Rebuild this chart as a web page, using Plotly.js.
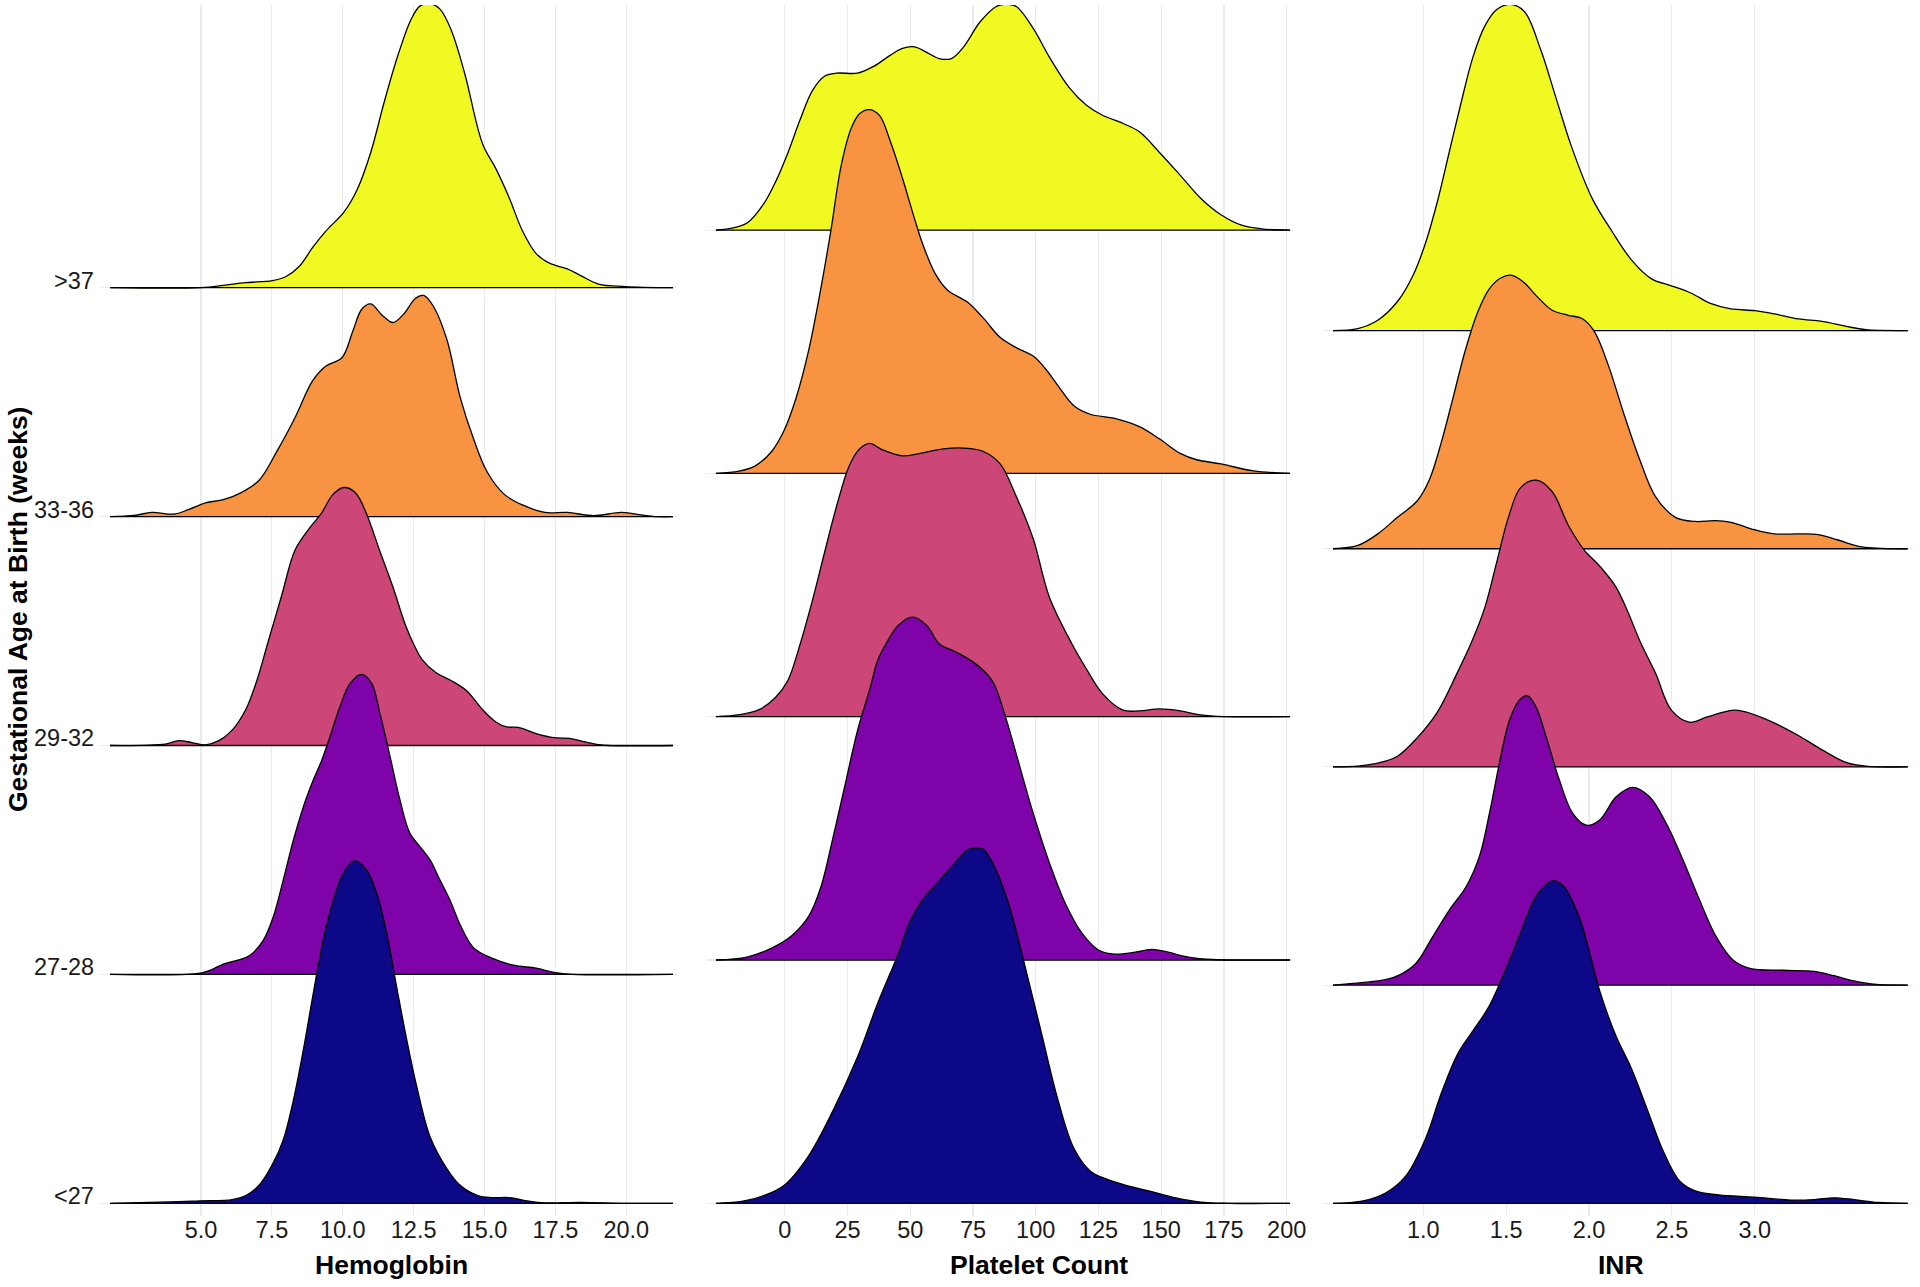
<!DOCTYPE html>
<html>
<head>
<meta charset="utf-8">
<script src="https://cdn.plot.ly/plotly-3.0.1.min.js"></script>
<style>html,body{margin:0;padding:0;background:#fff;}#chart{width:1920px;height:1287px;}</style>
</head>
<body>
<div id="chart"></div>
<script>
// ---------- categories / labels ----------
const ageGroups = ['<27', '27-28', '29-32', '33-36', '>37'];
const groupColors = ['#0D0887', '#7E03A8', '#CC4678', '#F89441', '#F0F921'];
const panelTitles = ['Hemoglobin', 'Platelet Count', 'INR'];
const yAxisTitle = 'Gestational Age at Birth (weeks)';

const hbTickVals = [5, 7.5, 10, 12.5, 15, 17.5, 20];
const hbTickText = ['5.0', '7.5', '10.0', '12.5', '15.0', '17.5', '20.0'];
const plTickVals = [0, 25, 50, 75, 100, 125, 150, 175, 200];
const plTickText = ['0', '25', '50', '75', '100', '125', '150', '175', '200'];
const inTickVals = [1, 1.5, 2, 2.5, 3];
const inTickText = ['1.0', '1.5', '2.0', '2.5', '3.0'];

// ---------- ridge heights (in row-spacing units) ----------
// Hemoglobin
const hbLt27X = [1.79, 4.21, 5.0, 6.1, 6.58, 7.05, 7.52, 7.9, 8.26, 8.61, 8.96, 9.31, 9.67, 10.02, 10.41, 10.84, 11.2, 11.55, 11.9, 12.26, 12.61, 13.08, 13.67, 14.14, 14.77, 15.24, 15.87, 16.5, 17.13, 18.39, 20.0, 21.65];
const hbLt27H = [0, 0.007, 0.011, 0.016, 0.034, 0.079, 0.17, 0.277, 0.451, 0.67, 0.917, 1.15, 1.325, 1.442, 1.497, 1.456, 1.354, 1.18, 0.946, 0.713, 0.51, 0.291, 0.152, 0.079, 0.034, 0.025, 0.025, 0.011, 0.002, 0.004, 0, 0];
const hb2728X = [1.79, 4.84, 5.32, 5.79, 6.3, 6.73, 7.2, 7.55, 7.9, 8.26, 8.61, 8.96, 9.26, 9.55, 9.9, 10.26, 10.67, 11.02, 11.31, 11.67, 12.02, 12.37, 12.73, 13.08, 13.43, 13.78, 14.14, 14.61, 15.24, 16.03, 16.82, 17.45, 18.08, 21.65];
const hb2728H = [0, 0.003, 0.018, 0.045, 0.062, 0.084, 0.15, 0.252, 0.412, 0.587, 0.732, 0.849, 0.936, 1.038, 1.169, 1.271, 1.311, 1.271, 1.14, 0.951, 0.761, 0.616, 0.557, 0.5, 0.412, 0.325, 0.217, 0.117, 0.072, 0.04, 0.027, 0.009, 0, 0];
const hb2932X = [1.79, 3.74, 4.21, 4.68, 5.16, 5.63, 6.1, 6.58, 6.97, 7.36, 7.84, 8.31, 8.78, 9.25, 9.65, 10.04, 10.44, 10.83, 11.3, 11.78, 12.2, 12.55, 12.8, 13.27, 13.82, 14.37, 14.93, 15.4, 15.79, 16.19, 16.82, 17.45, 18.0, 18.55, 19.18, 21.65];
const hb2932H = [0, 0.006, 0.021, 0.013, 0.003, 0.021, 0.067, 0.157, 0.284, 0.45, 0.653, 0.852, 0.942, 1.015, 1.096, 1.127, 1.105, 1.015, 0.852, 0.689, 0.53, 0.43, 0.375, 0.32, 0.284, 0.239, 0.157, 0.103, 0.081, 0.079, 0.052, 0.034, 0.031, 0.016, 0.002, 0];
const hb3336X = [1.79, 2.64, 3.27, 4.05, 4.53, 5.16, 5.79, 6.42, 7.05, 7.68, 8.31, 8.94, 9.41, 9.97, 10.36, 10.67, 10.99, 11.39, 11.78, 12.17, 12.56, 12.85, 13.19, 13.67, 14.14, 14.61, 15.09, 15.71, 16.34, 17.13, 17.92, 18.86, 19.81, 20.44, 21.07, 21.65];
const hb3336H = [0, 0.005, 0.018, 0.011, 0.029, 0.06, 0.074, 0.105, 0.159, 0.286, 0.431, 0.594, 0.658, 0.694, 0.812, 0.906, 0.929, 0.88, 0.848, 0.888, 0.953, 0.966, 0.92, 0.775, 0.522, 0.341, 0.196, 0.096, 0.051, 0.018, 0.018, 0.004, 0.018, 0.009, 0, 0];
const hbGt37X = [1.79, 5.0, 5.79, 6.58, 7.52, 8.0, 8.47, 8.94, 9.41, 10.04, 10.51, 10.99, 11.46, 11.93, 12.41, 12.72, 13.07, 13.43, 13.82, 14.3, 14.93, 15.4, 15.87, 16.34, 16.82, 17.29, 17.92, 18.39, 19.02, 19.97, 21.65];
const hbGt37H = [0, 0, 0.01, 0.022, 0.031, 0.049, 0.094, 0.176, 0.248, 0.33, 0.429, 0.592, 0.81, 1.009, 1.172, 1.23, 1.241, 1.217, 1.127, 0.937, 0.629, 0.52, 0.393, 0.248, 0.149, 0.107, 0.082, 0.053, 0.016, 0.005, 0];

// Platelet count
const plLt27X = [-27.4, -16.6, -8.5, -0.3, 9.4, 19.2, 29, 37.1, 45.3, 50.1, 55, 61.5, 68, 72.9, 76.2, 79.4, 84.3, 89.2, 95.7, 102.2, 108.7, 115.2, 121.7, 128.3, 136.4, 146.2, 155.9, 165.7, 177, 201.3];
const plLt27H = [0, 0.009, 0.031, 0.073, 0.193, 0.38, 0.601, 0.823, 1.027, 1.163, 1.248, 1.325, 1.401, 1.453, 1.461, 1.453, 1.367, 1.231, 0.976, 0.703, 0.431, 0.226, 0.133, 0.099, 0.073, 0.048, 0.022, 0.005, 0, 0];
const pl2728X = [-27.4, -15, -5.2, 2.9, 9.4, 14.3, 19.2, 24.1, 29, 33.9, 37.1, 40.4, 45.2, 51, 56.6, 61.5, 68, 76.2, 82.7, 87.6, 92.4, 99, 105.5, 112, 118.5, 125, 131.5, 139.6, 146.2, 152.7, 160.8, 170.6, 201.3];
const pl2728H = [0, 0.012, 0.049, 0.101, 0.177, 0.296, 0.501, 0.722, 0.943, 1.113, 1.233, 1.3, 1.375, 1.409, 1.375, 1.3, 1.267, 1.216, 1.147, 1.011, 0.841, 0.603, 0.398, 0.228, 0.109, 0.041, 0.024, 0.032, 0.044, 0.032, 0.012, 0.002, 0];
const pl2932X = [-27.4, -18, -10, -3.6, 1.3, 6.2, 11.1, 16, 20.8, 25.7, 29.8, 33.9, 38.7, 46.9, 53.4, 63.2, 72.9, 79.4, 85.9, 92.4, 99, 105.5, 114.4, 120.1, 126.6, 134.8, 141.3, 149.4, 157.6, 165.7, 175.5, 201.3];
const pl2932H = [0, 0.008, 0.03, 0.08, 0.15, 0.3, 0.48, 0.68, 0.87, 1.03, 1.1, 1.123, 1.098, 1.072, 1.081, 1.101, 1.103, 1.089, 1.038, 0.902, 0.731, 0.49, 0.3, 0.198, 0.095, 0.027, 0.024, 0.032, 0.024, 0.007, 0, 0];
const pl3336X = [-27.4, -18.2, -11.7, -5.2, -0.3, 4.6, 9.4, 14.3, 18.4, 22.5, 26.5, 29.8, 33.9, 37.9, 42, 46.9, 51.8, 55, 59.9, 64.8, 72.9, 79.4, 85.9, 92.4, 99, 103.8, 108.7, 115.2, 121.7, 131.5, 141.3, 149.4, 157.6, 164.1, 173.8, 186.8, 201.3];
const pl3336H = [0, 0.009, 0.031, 0.09, 0.175, 0.312, 0.499, 0.754, 0.998, 1.265, 1.418, 1.478, 1.495, 1.469, 1.367, 1.214, 1.044, 0.942, 0.822, 0.754, 0.703, 0.635, 0.558, 0.516, 0.482, 0.431, 0.363, 0.278, 0.243, 0.226, 0.192, 0.141, 0.082, 0.056, 0.039, 0.01, 0];
const plGt37X = [-27.4, -21.5, -15, -8.5, -3.6, 1.3, 6.2, 11.1, 16, 20.8, 29, 35.5, 42, 46.9, 51.8, 56.6, 61.5, 66.4, 71.3, 77.8, 84.3, 88.4, 92.4, 99, 105.5, 113.6, 120.1, 126.6, 134.8, 141.3, 149.4, 157.6, 165.7, 173.8, 182, 190, 201.3];
const plGt37H = [0, 0.007, 0.029, 0.106, 0.199, 0.318, 0.455, 0.574, 0.633, 0.645, 0.645, 0.673, 0.718, 0.747, 0.753, 0.73, 0.705, 0.705, 0.753, 0.855, 0.919, 0.928, 0.918, 0.829, 0.71, 0.582, 0.514, 0.472, 0.438, 0.404, 0.318, 0.225, 0.131, 0.063, 0.02, 0.005, 0];

// INR
const inLt27X = [0.455, 0.629, 0.772, 0.892, 1.012, 1.108, 1.204, 1.299, 1.395, 1.491, 1.587, 1.683, 1.778, 1.85, 1.946, 2.066, 2.162, 2.257, 2.353, 2.449, 2.545, 2.641, 2.784, 3.0, 3.216, 3.359, 3.479, 3.599, 3.743, 3.923];
const inLt27H = [0, 0.01, 0.047, 0.123, 0.294, 0.503, 0.68, 0.79, 0.9, 1.06, 1.24, 1.41, 1.478, 1.45, 1.3, 0.97, 0.768, 0.616, 0.427, 0.237, 0.104, 0.057, 0.038, 0.028, 0.015, 0.017, 0.025, 0.017, 0.004, 0];
const in2728X = [0.455, 0.629, 0.772, 0.855, 0.955, 1.056, 1.157, 1.258, 1.338, 1.399, 1.459, 1.52, 1.58, 1.63, 1.68, 1.741, 1.821, 1.902, 1.983, 2.063, 2.164, 2.264, 2.365, 2.466, 2.567, 2.667, 2.768, 2.869, 2.97, 3.168, 3.359, 3.479, 3.599, 3.719, 3.923];
const in2728H = [0, 0.011, 0.025, 0.046, 0.099, 0.221, 0.344, 0.451, 0.589, 0.787, 1.016, 1.214, 1.306, 1.326, 1.275, 1.138, 0.94, 0.787, 0.733, 0.756, 0.863, 0.906, 0.863, 0.741, 0.573, 0.39, 0.221, 0.115, 0.077, 0.068, 0.063, 0.043, 0.019, 0.004, 0];
const in2932X = [0.455, 0.605, 0.725, 0.844, 0.964, 1.084, 1.204, 1.29, 1.371, 1.443, 1.515, 1.587, 1.683, 1.778, 1.874, 1.97, 2.066, 2.162, 2.234, 2.311, 2.401, 2.497, 2.605, 2.713, 2.88, 3.0, 3.12, 3.263, 3.407, 3.551, 3.671, 3.923];
const in2932H = [0, 0.004, 0.017, 0.049, 0.134, 0.25, 0.43, 0.57, 0.73, 0.939, 1.147, 1.28, 1.314, 1.261, 1.109, 0.995, 0.919, 0.825, 0.711, 0.57, 0.43, 0.26, 0.205, 0.229, 0.26, 0.239, 0.201, 0.144, 0.078, 0.021, 0.004, 0];
const in3336X = [0.455, 0.605, 0.725, 0.844, 0.964, 1.036, 1.108, 1.18, 1.251, 1.323, 1.395, 1.467, 1.527, 1.599, 1.683, 1.778, 1.874, 1.958, 2.03, 2.114, 2.21, 2.305, 2.401, 2.521, 2.641, 2.76, 2.856, 3.0, 3.12, 3.263, 3.383, 3.503, 3.647, 3.923];
const in3336H = [0, 0.015, 0.068, 0.144, 0.22, 0.315, 0.486, 0.694, 0.903, 1.074, 1.188, 1.241, 1.254, 1.226, 1.159, 1.093, 1.07, 1.055, 0.998, 0.846, 0.619, 0.41, 0.239, 0.144, 0.125, 0.129, 0.121, 0.087, 0.068, 0.068, 0.065, 0.04, 0.008, 0];
const inGt37X = [0.455, 0.605, 0.725, 0.844, 0.94, 1.012, 1.084, 1.156, 1.228, 1.299, 1.371, 1.443, 1.527, 1.611, 1.707, 1.802, 1.898, 2.018, 2.138, 2.257, 2.377, 2.497, 2.617, 2.737, 2.856, 3.0, 3.12, 3.263, 3.407, 3.551, 3.671, 3.923];
const inGt37H = [0, 0.009, 0.047, 0.133, 0.256, 0.398, 0.588, 0.816, 1.044, 1.252, 1.395, 1.471, 1.495, 1.461, 1.29, 1.063, 0.835, 0.607, 0.455, 0.323, 0.237, 0.205, 0.171, 0.123, 0.099, 0.091, 0.076, 0.053, 0.042, 0.019, 0.004, 0];

// ---------- build ----------
const W = 1920, H = 1287;
const FONT = 'Liberation Sans, Arial, Helvetica, sans-serif';
const panels = [
  { xs: [hbLt27X, hb2728X, hb2932X, hb3336X, hbGt37X], hs: [hbLt27H, hb2728H, hb2932H, hb3336H, hbGt37H],
    px: [100, 677], xr: [1.4374, 21.79], yr: [-0.0555, 5.235], tv: hbTickVals, tt: hbTickText, titleX: 391 },
  { xs: [plLt27X, pl2728X, pl2932X, pl3336X, plGt37X], hs: [plLt27H, pl2728H, pl2932H, pl3336H, plGt37H],
    px: [706, 1293], xr: [-31.35, 202.5], yr: [-0.0522, 4.925], tv: plTickVals, tt: plTickText, titleX: 1039 },
  { xs: [inLt27X, in2728X, in2932X, in3336X, inGt37X], hs: [inLt27H, in2728H, in2932H, in3336H, inGt37H],
    px: [1323, 1913], xr: [0.3947, 3.955], yr: [-0.0582, 5.492], tv: inTickVals, tt: inTickText, titleX: 1621 }
];
const yDom = [1 - 1216 / H, 1 - 5 / H];

const traces = [];
const layout = {
  width: W, height: H, margin: { l: 0, r: 0, t: 0, b: 0 },
  paper_bgcolor: '#ffffff', plot_bgcolor: '#ffffff', showlegend: false,
  font: { family: FONT, color: '#1a1a1a' },
  annotations: []
};

panels.forEach((p, i) => {
  const n = i + 1;
  const xa = 'x' + (n === 1 ? '' : n), ya = 'y' + (n === 1 ? '' : n);
  for (let k = ageGroups.length - 1; k >= 0; k--) {
    const xs = p.xs[k], hs = p.hs[k];
    traces.push({
      type: 'scatter', mode: 'lines', xaxis: xa, yaxis: ya,
      x: xs, y: hs.map(v => v + k),
      fill: 'toself', fillcolor: groupColors[k],
      line: { color: '#000000', width: 1.3, shape: 'spline', smoothing: 1.0 },
      hoverinfo: 'skip'
    });
    traces.push({
      type: 'scatter', mode: 'lines', xaxis: xa, yaxis: ya,
      x: [xs[0], xs[xs.length - 1]], y: [k, k],
      line: { color: '#000000', width: 1.3 }, hoverinfo: 'skip'
    });
  }
  layout['xaxis' + (n === 1 ? '' : n)] = {
    domain: [p.px[0] / W, p.px[1] / W], range: p.xr, anchor: ya,
    tickmode: 'array', tickvals: p.tv, ticktext: p.tt,
    showgrid: true, gridcolor: '#EBEBEB', gridwidth: 1.1,
    zeroline: false, showline: false, ticks: '', ticklabelstandoff: -3,
    tickfont: { family: FONT, size: 23.5, color: '#1a1a1a' }, fixedrange: true
  };
  layout['yaxis' + (n === 1 ? '' : n)] = {
    domain: yDom, range: p.yr, anchor: xa,
    tickmode: 'array', tickvals: [0, 1, 2, 3, 4], showticklabels: false,
    showgrid: true, gridcolor: '#EBEBEB', gridwidth: 1.1,
    zeroline: false, showline: false, ticks: '', fixedrange: true
  };
  layout.annotations.push({
    xref: 'paper', yref: 'paper', x: p.titleX / W, y: 1 - 1265 / H,
    xanchor: 'center', yanchor: 'middle', showarrow: false,
    text: '<b>' + panelTitles[i] + '</b>', font: { family: FONT, size: 26.5, color: '#000000' }
  });
});

ageGroups.forEach((g, k) => {
  layout.annotations.push({
    xref: 'paper', yref: 'y', x: 96 / W, y: k, xanchor: 'right', yanchor: 'bottom',
    yshift: -8, showarrow: false, text: g.replace('<', '&lt;').replace('>', '&gt;'),
    font: { family: FONT, size: 23.5, color: '#1a1a1a' }
  });
});
layout.annotations.push({
  xref: 'paper', yref: 'paper', x: 18 / W, y: 1 - 610 / H, xanchor: 'center', yanchor: 'middle',
  textangle: -90, showarrow: false, text: '<b>' + yAxisTitle + '</b>',
  font: { family: FONT, size: 26.5, color: '#000000' }
});

Plotly.newPlot('chart', traces, layout, { staticPlot: true, displayModeBar: false });
</script>
</body>
</html>
